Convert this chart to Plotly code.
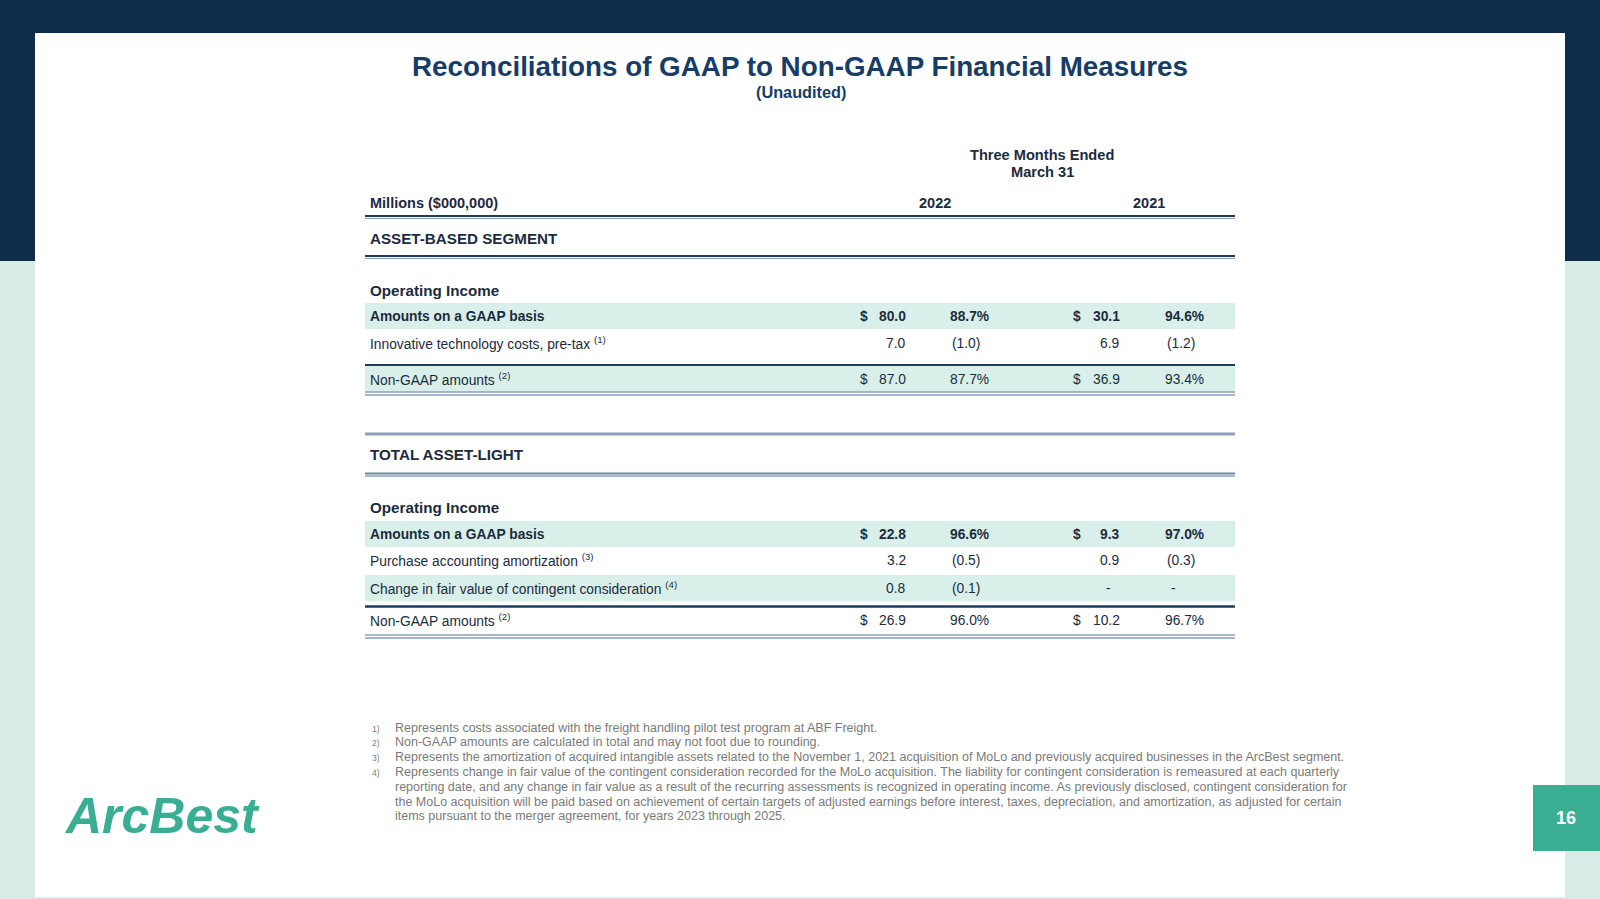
import plotly.graph_objects as go

# ---------------- data ----------------
title = "Reconciliations of GAAP to Non-GAAP Financial Measures"
subtitle = "(Unaudited)"
period_header = ["Three Months Ended", "March 31"]
units_label = "Millions ($000,000)"
years = ["2022", "2021"]

seg1_name = "ASSET-BASED SEGMENT"
seg1_labels = ["Amounts on a GAAP basis", "Innovative technology costs, pre-tax", "Non-GAAP amounts"]
seg1_notes = ["", "(1)", "(2)"]
seg1_amt_2022 = [80.0, 7.0, 87.0]
seg1_ratio_2022 = [88.7, -1.0, 87.7]
seg1_amt_2021 = [30.1, 6.9, 36.9]
seg1_ratio_2021 = [94.6, -1.2, 93.4]
seg1_kind = ["gaap", "adj", "total"]

seg2_name = "TOTAL ASSET-LIGHT"
seg2_labels = ["Amounts on a GAAP basis", "Purchase accounting amortization",
               "Change in fair value of contingent consideration", "Non-GAAP amounts"]
seg2_notes = ["", "(3)", "(4)", "(2)"]
seg2_amt_2022 = [22.8, 3.2, 0.8, 26.9]
seg2_ratio_2022 = [96.6, -0.5, -0.1, 96.0]
seg2_amt_2021 = [9.3, 0.9, None, 10.2]
seg2_ratio_2021 = [97.0, -0.3, None, 96.7]
seg2_kind = ["gaap", "adj", "adj", "total"]

sub_header = "Operating Income"

footnote_nums = ["1)", "2)", "3)", "4)", "", "", ""]
footnote_lines = [
    "Represents costs associated with the freight handling pilot test program at ABF Freight.",
    "Non-GAAP amounts are calculated in total and may not foot due to rounding.",
    "Represents the amortization of acquired intangible assets related to the November 1, 2021 acquisition of MoLo and previously acquired businesses in the ArcBest segment.",
    "Represents change in fair value of the contingent consideration recorded for the MoLo acquisition. The liability for contingent consideration is remeasured at each quarterly",
    "reporting date, and any change in fair value as a result of the recurring assessments is recognized in operating income. As previously disclosed, contingent consideration for",
    "the MoLo acquisition will be paid based on achievement of certain targets of adjusted earnings before interest, taxes, depreciation, and amortization, as adjusted for certain",
    "items pursuant to the merger agreement, for years 2023 through 2025.",
]
logo_text = "ArcBest"
page_number = "16"

# ---------------- style ----------------
FONT = "Liberation Sans, Arial, sans-serif"
NAVY = "#0e2d4b"
TITLE_C = "#173d66"
TEXT_C = "#1c2b3e"
BAND_C = "#d9efea"
DARK_LINE = "#1f3a5f"
GRAY_LINE = "#8e9fb8"
TEAL = "#3aae92"
FOOT_C = "#7a7a7a"
BODY = 13.8
SECTION = 15.2

W, H = 1600, 899
fig = go.Figure()
shapes = []
ann = []


def rect(x0, y0, x1, y1, color):
    shapes.append(dict(type="rect", xref="x", yref="y", x0=x0, y0=y0, x1=x1, y1=y1,
                       fillcolor=color, line=dict(width=0), layer="below"))


def hline(y, color, width, x0=365, x1=1235):
    shapes.append(dict(type="line", xref="x", yref="y", x0=x0, x1=x1, y0=y, y1=y,
                       line=dict(color=color, width=width)))


def text(x, y, s, size=BODY, color=TEXT_C, bold=False, anchor="left", italic=False):
    if bold:
        s = "<b>" + s + "</b>"
    if italic:
        s = "<i>" + s + "</i>"
    ann.append(dict(x=x, y=y, xref="x", yref="y", text=s, showarrow=False,
                    xanchor=anchor, yanchor="middle",
                    font=dict(family=FONT, size=size, color=color)))


# background
rect(0, 0, W, 261, NAVY)
rect(0, 261, W, H, "#d9ebe7")
rect(35, 33, 1565, 897, "#ffffff")
rect(1533, 785, 1600, 851, TEAL)

# title
text(800, 66, title, size=27.8, color=TITLE_C, bold=True, anchor="center")
text(801, 92, subtitle, size=16.3, color=TITLE_C, bold=True, anchor="center")

# header
text(1042, 155, period_header[0], size=14.6, color=TEXT_C, bold=True, anchor="center")
text(1042, 172, period_header[1], size=14.6, color=TEXT_C, bold=True, anchor="center")
text(368, 203, units_label, size=14.5, bold=True)
text(935, 203, years[0], size=14.5, bold=True, anchor="center")
text(1149, 203, years[1], size=14.5, bold=True, anchor="center")
hline(216, DARK_LINE, 2.2)
hline(218.5, GRAY_LINE, 1)

X_DOL22, X_AMT22, X_PCT22 = 864, 908, 948
X_DOL21, X_AMT21, X_PCT21 = 1077, 1122, 1163


def fmt_amt(v):
    return "-" if v is None else f"{v:.1f}"


def fmt_ratio(v):
    if v is None:
        return "-"
    if v < 0:
        return f"({abs(v):.1f})"
    return f"{v:.1f}%"


def draw_rows(ys, labels, notes, a22, r22, a21, r21, kinds, bands):
    for i, y in enumerate(ys):
        if bands[i]:
            rect(365, y - 13, 1235, y + 13, BAND_C)
        bold = kinds[i] == "gaap"
        lab = labels[i]
        if notes[i]:
            lab = lab + " <sup>" + notes[i] + "</sup>"
        text(368, y, lab, bold=bold)
        if kinds[i] in ("gaap", "total"):
            text(X_DOL22, y, "$", bold=bold, anchor="center")
            text(X_DOL21, y, "$", bold=bold, anchor="center")
        s = fmt_amt(a22[i])
        text(X_AMT22 - (9 if a22[i] is None else 0), y, s, bold=bold, anchor="right")
        s = fmt_amt(a21[i])
        text(X_AMT21 - (9 if a21[i] is None else 0), y, s, bold=bold, anchor="right")
        s = fmt_ratio(r22[i])
        if r22[i] is None:
            text(X_PCT22 + 10, y, s, bold=bold, anchor="center")
        else:
            text(X_PCT22 + (2 if r22[i] < 0 else 0), y, s, bold=bold)
        s = fmt_ratio(r21[i])
        if r21[i] is None:
            text(X_PCT21 + 10, y, s, bold=bold, anchor="center")
        else:
            text(X_PCT21 + (2 if r21[i] < 0 else 0), y, s, bold=bold)


# segment 1
text(368, 238, seg1_name, size=SECTION, bold=True)
hline(256, DARK_LINE, 2.2)
hline(258.5, GRAY_LINE, 1)
text(368, 290, sub_header, size=SECTION, bold=True)
draw_rows([316, 343, 379], seg1_labels, seg1_notes, seg1_amt_2022, seg1_ratio_2022,
          seg1_amt_2021, seg1_ratio_2021, seg1_kind, [True, False, True])
hline(365, DARK_LINE, 2.2)
hline(392, GRAY_LINE, 1.5)
hline(395, GRAY_LINE, 1.5)

# segment 2
hline(434, GRAY_LINE, 3)
text(368, 454, seg2_name, size=SECTION, bold=True)
hline(473.5, "#6f84a3", 1.8)
hline(476, GRAY_LINE, 1.5)
text(368, 507, sub_header, size=SECTION, bold=True)
draw_rows([534, 560, 588, 620], seg2_labels, seg2_notes, seg2_amt_2022, seg2_ratio_2022,
          seg2_amt_2021, seg2_ratio_2021, seg2_kind, [True, False, True, False])
hline(606.5, DARK_LINE, 2.5)
hline(635, GRAY_LINE, 1.5)
hline(638, GRAY_LINE, 1.5)

# footnotes
foot_y0, foot_dy = 727.5, 14.8
for i, (n, line) in enumerate(zip(footnote_nums, footnote_lines)):
    y = foot_y0 + i * foot_dy
    if n:
        text(376, y + 1, n, size=8.5, color=FOOT_C, anchor="center")
    text(393, y, line, size=12.5, color=FOOT_C)

# logo & page number
text(162, 816, logo_text, size=50, color=TEAL, bold=True, italic=True, anchor="center")
text(1566, 818, page_number, size=18, color="#ffffff", bold=True, anchor="center")

fig.update_layout(
    width=W, height=H, margin=dict(l=0, r=0, t=0, b=0),
    paper_bgcolor="#ffffff", plot_bgcolor="#ffffff",
    xaxis=dict(range=[0, W], visible=False, fixedrange=True),
    yaxis=dict(range=[H, 0], visible=False, fixedrange=True),
    shapes=shapes, annotations=ann, showlegend=False,
)

fig.write_html("out.html", config={"displayModeBar": False, "staticPlot": True},
               post_script="document.body.style.margin='0';document.body.style.overflow='hidden';")
